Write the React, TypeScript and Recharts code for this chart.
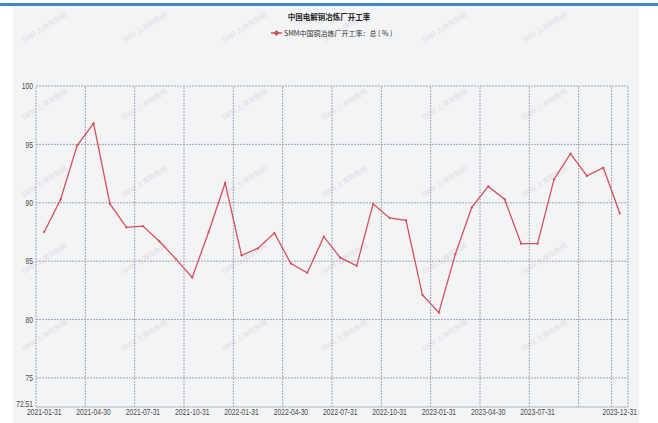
import React from "react";
import { LineChart, Line, XAxis, YAxis, CartesianGrid, ReferenceLine } from "recharts";

// month-end dates, Jan 2021 .. Dec 2023
const months = [
  "2021-01-31", "2021-02-28", "2021-03-31", "2021-04-30", "2021-05-31", "2021-06-30",
  "2021-07-31", "2021-08-31", "2021-09-30", "2021-10-31", "2021-11-30", "2021-12-31",
  "2022-01-31", "2022-02-28", "2022-03-31", "2022-04-30", "2022-05-31", "2022-06-30",
  "2022-07-31", "2022-08-31", "2022-09-30", "2022-10-31", "2022-11-30", "2022-12-31",
  "2023-01-31", "2023-02-28", "2023-03-31", "2023-04-30", "2023-05-31", "2023-06-30",
  "2023-07-31", "2023-08-31", "2023-09-30", "2023-10-31", "2023-11-30", "2023-12-31"
];

// SMM 中国铜冶炼厂开工率：总 (%)
const utilization = [
  87.5, 90.3, 94.9, 96.8, 89.9, 87.9, 88.0, 86.7, 85.2, 83.6, 87.5, 91.7,
  85.5, 86.1, 87.4, 84.8, 84.0, 87.1, 85.3, 84.6, 89.9, 88.7, 88.5, 82.1,
  80.6, 85.6, 89.6, 91.4, 90.3, 86.5, 86.5, 92.0, 94.2, 92.3, 93.0, 89.1
];

const yTicks = [72.51, 75, 80, 85, 90, 95, 100];

const gridMonths = [
  "2021-01-31", "2021-04-30", "2021-07-31", "2021-10-31",
  "2022-01-31", "2022-04-30", "2022-07-31", "2022-10-31",
  "2023-01-31", "2023-04-30", "2023-07-31", "2023-10-31", "2023-12-31"
];

// 2023-10-31 gets a grid line but its label is dropped (too close to the last one)
const labelMonths = gridMonths.filter((m) => m !== "2023-10-31");

const data = months.map((m, i) => ({ month: m, value: utilization[i] }));

const RED = "#d6505b";
const GRID = "#a3a6bd";
const TICK_FONT = "'Liberation Sans', Arial, sans-serif";
const CJK_FONT = "'Noto Sans CJK SC', 'Noto Sans', sans-serif";

const XTick = (props: any) => {
  const { x, y, payload } = props;
  return (
    <g transform={`translate(${x},${y})`}>
      <text
        x={0}
        y={0}
        dy={7.6}
        textAnchor="middle"
        transform="scale(0.75,1)"
        fontSize={9}
        fill="#4a4a4a"
        fontFamily={TICK_FONT}
      >
        {payload.value}
      </text>
    </g>
  );
};

const YTick = (props: any) => {
  const { x, y, payload } = props;
  const lift = payload.value === yTicks[0] ? -3 : 0;
  return (
    <g transform={`translate(${x},${y + lift})`}>
      <text
        x={0}
        y={0}
        dy={3.2}
        textAnchor="end"
        transform="scale(0.75,1)"
        fontSize={9}
        fill="#4a4a4a"
        fontFamily={TICK_FONT}
      >
        {payload.value}
      </text>
    </g>
  );
};

const Watermarks = () => {
  const marks: React.ReactNode[] = [];
  for (let r = 0; r < 5; r++) {
    for (let c = 0; c < 6; c++) {
      marks.push(
        <div
          key={`${r}-${c}`}
          style={{
            position: "absolute",
            left: 18 + c * 100,
            top: 22 + r * 77,
            transform: "rotate(-32deg)",
            fontSize: 7,
            color: "#dfe0e4",
            fontFamily: CJK_FONT,
            whiteSpace: "nowrap"
          }}
        >
          SMM 上海有色网
        </div>
      );
    }
  }
  return <>{marks}</>;
};

export default function App() {
  return (
    <div
      style={{
        position: "absolute",
        left: 0,
        top: 0,
        width: 658,
        height: 423,
        background: "#ffffff",
        overflow: "hidden"
      }}
    >
      <div style={{ position: "absolute", left: 0, top: 3, width: 658, height: 3, background: "#3b88c9" }} />
      <div
        style={{
          position: "absolute",
          left: 13,
          top: 6,
          width: 626,
          height: 417,
          background: "#f3f4f6",
          overflow: "hidden"
        }}
      >
        <div style={{ position: "absolute", left: -13, top: -6 }}>
          <Watermarks />
        </div>
      </div>
      <div
        style={{
          position: "absolute",
          left: 0,
          top: 11,
          width: 658,
          textAlign: "center",
          fontFamily: CJK_FONT,
          fontWeight: 700,
          fontSize: 7.5,
          color: "#222"
        }}
      >
        中国电解铜冶炼厂开工率
      </div>
      <div
        style={{
          position: "absolute",
          left: 271,
          top: 28,
          display: "flex",
          alignItems: "center",
          fontFamily: CJK_FONT,
          fontSize: 7,
          color: "#333",
          whiteSpace: "nowrap"
        }}
      >
        <svg width={11} height={8} style={{ marginRight: 2 }}>
          <line x1={0} y1={4} x2={11} y2={4} stroke={RED} strokeWidth={1.5} />
          <path d="M5.5 1 L8.5 4 L5.5 7 L2.5 4 Z" fill={RED} />
        </svg>
        SMM中国铜冶炼厂开工率：总 ( % )
      </div>
      <div style={{ position: "absolute", left: 0, top: 0 }}>
        <LineChart width={658} height={423} data={data} margin={{ top: 86, right: 30, bottom: 0, left: 6 }}>
          <CartesianGrid vertical={false} stroke={GRID} strokeDasharray="2 1" />
          {gridMonths.map((m) => (
            <ReferenceLine
              key={m}
              x={m}
              position="start"
              stroke={GRID}
              strokeDasharray="2 1"
              ifOverflow="visible"
            />
          ))}
          <ReferenceLine
            x={months[months.length - 1]}
            position="end"
            stroke={GRID}
            strokeDasharray="2 1"
            ifOverflow="visible"
          />
          <XAxis
            dataKey="month"
            scale="band"
            ticks={labelMonths}
            interval={0}
            height={16}
            tickSize={0}
            tickMargin={0}
            tickLine={false}
            axisLine={{ stroke: "#cfd1d6" }}
            tick={<XTick />}
          />
          <YAxis
            type="number"
            domain={[72.51, 100]}
            ticks={yTicks}
            interval={0}
            width={30}
            tickSize={0}
            tickMargin={3}
            tickLine={false}
            axisLine={false}
            allowDataOverflow
            tick={<YTick />}
          />
          <Line
            type="linear"
            dataKey="value"
            stroke={RED}
            strokeWidth={1.3}
            dot={{ r: 0.9, fill: RED, stroke: RED, strokeWidth: 0.5 }}
            activeDot={false}
            isAnimationActive={false}
          />
        </LineChart>
      </div>
    </div>
  );
}
